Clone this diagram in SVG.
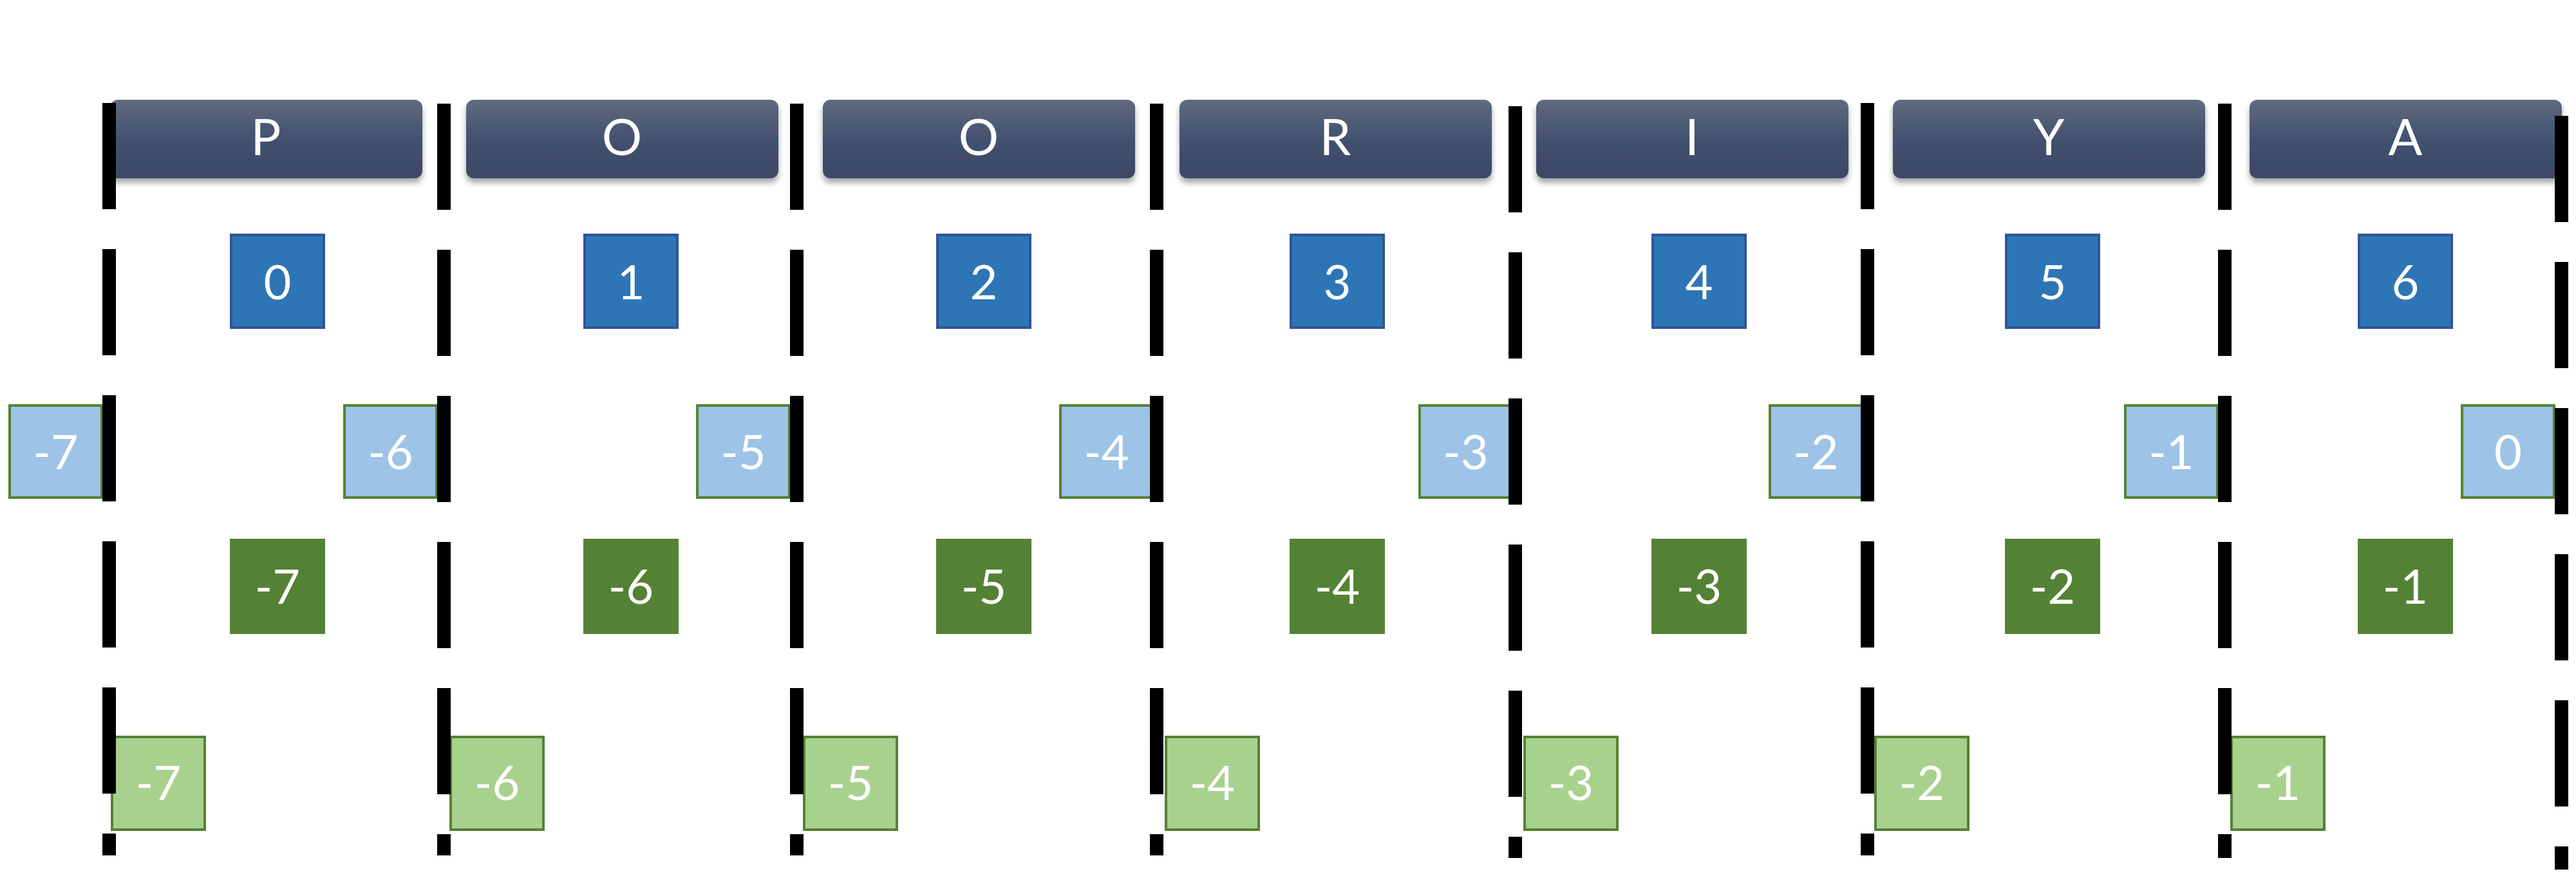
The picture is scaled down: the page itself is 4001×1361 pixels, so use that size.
<svg xmlns="http://www.w3.org/2000/svg" width="4001" height="1361" viewBox="0 0 4001 1361">
<style>
text{font-family:Lato,"Noto Sans","Liberation Sans",sans-serif;fill:#fff;text-anchor:middle}
.hdr rect{fill:url(#hg);filter:url(#sh)}
.hdr text{font-size:78px}
.bx text{font-size:74px}
.b rect{fill:#2e75b6;stroke:#2f5597;stroke-width:4}
.lb rect{fill:#9dc3e6;stroke:#548235;stroke-width:4}
.dg rect{fill:#548235}
.lg rect{fill:#a9d18e;stroke:#548235;stroke-width:4}
#connectors line{stroke:#000;stroke-width:21;stroke-dasharray:165 62}
</style>
<defs>
<linearGradient id="hg" x1="0" y1="0" x2="0" y2="1">
<stop offset="0" stop-color="#5f6b7e"/>
<stop offset="0.5" stop-color="#435170"/>
<stop offset="1" stop-color="#3b4864"/>
</linearGradient>
<filter id="sh" x="-5%" y="-20%" width="110%" height="150%">
<feDropShadow dx="0" dy="7" stdDeviation="5" flood-color="#000" flood-opacity="0.35"/>
</filter>
</defs>
<rect width="4001" height="1361" fill="#fff"/>
<g id="headers">
<g id="h0" class="hdr"><rect x="171" y="155" width="485" height="122" rx="12"/><text x="413" y="241">P</text></g>
<g id="h1" class="hdr"><rect x="724" y="155" width="485" height="122" rx="12"/><text x="966" y="241">O</text></g>
<g id="h2" class="hdr"><rect x="1278" y="155" width="485" height="122" rx="12"/><text x="1520" y="241">O</text></g>
<g id="h3" class="hdr"><rect x="1832" y="155" width="485" height="122" rx="12"/><text x="2074" y="241">R</text></g>
<g id="h4" class="hdr"><rect x="2386" y="155" width="485" height="122" rx="12"/><text x="2628" y="241">I</text></g>
<g id="h5" class="hdr"><rect x="2940" y="155" width="485" height="122" rx="12"/><text x="3182" y="241">Y</text></g>
<g id="h6" class="hdr"><rect x="3494" y="155" width="485" height="122" rx="12"/><text x="3736" y="241">A</text></g>
</g>
<g id="row-index" class="bx b">
<g id="b0"><rect x="359" y="365" width="144" height="144"/><text x="431" y="465">0</text></g>
<g id="b1"><rect x="908" y="365" width="144" height="144"/><text x="980" y="465">1</text></g>
<g id="b2"><rect x="1456" y="365" width="144" height="144"/><text x="1528" y="465">2</text></g>
<g id="b3"><rect x="2005" y="365" width="144" height="144"/><text x="2077" y="465">3</text></g>
<g id="b4"><rect x="2567" y="365" width="144" height="144"/><text x="2639" y="465">4</text></g>
<g id="b5"><rect x="3116" y="365" width="144" height="144"/><text x="3188" y="465">5</text></g>
<g id="b6"><rect x="3664" y="365" width="144" height="144"/><text x="3736" y="465">6</text></g>
</g>
<g id="row-lightblue" class="bx lb">
<g id="lb0"><rect x="15" y="630" width="143" height="143"/><text x="86.5" y="729">-7</text></g>
<g id="lb1"><rect x="535" y="630" width="143" height="143"/><text x="606.5" y="729">-6</text></g>
<g id="lb2"><rect x="1083" y="630" width="143" height="143"/><text x="1154.5" y="729">-5</text></g>
<g id="lb3"><rect x="1647" y="630" width="143" height="143"/><text x="1718.5" y="729">-4</text></g>
<g id="lb4"><rect x="2205" y="630" width="143" height="143"/><text x="2276.5" y="729">-3</text></g>
<g id="lb5"><rect x="2749" y="630" width="143" height="143"/><text x="2820.5" y="729">-2</text></g>
<g id="lb6"><rect x="3301" y="630" width="143" height="143"/><text x="3372.5" y="729">-1</text></g>
<g id="lb7"><rect x="3824" y="630" width="143" height="143"/><text x="3895.5" y="729">0</text></g>
</g>
<g id="row-darkgreen" class="bx dg">
<g id="dg0"><rect x="357" y="837" width="148" height="148"/><text x="431" y="938">-7</text></g>
<g id="dg1"><rect x="906" y="837" width="148" height="148"/><text x="980" y="938">-6</text></g>
<g id="dg2"><rect x="1454" y="837" width="148" height="148"/><text x="1528" y="938">-5</text></g>
<g id="dg3"><rect x="2003" y="837" width="148" height="148"/><text x="2077" y="938">-4</text></g>
<g id="dg4"><rect x="2565" y="837" width="148" height="148"/><text x="2639" y="938">-3</text></g>
<g id="dg5"><rect x="3114" y="837" width="148" height="148"/><text x="3188" y="938">-2</text></g>
<g id="dg6"><rect x="3662" y="837" width="148" height="148"/><text x="3736" y="938">-1</text></g>
</g>
<g id="row-lightgreen" class="bx lg">
<g id="lg0"><rect x="174" y="1145" width="144" height="144"/><text x="246" y="1243">-7</text></g>
<g id="lg1"><rect x="700" y="1145" width="144" height="144"/><text x="772" y="1243">-6</text></g>
<g id="lg2"><rect x="1249" y="1145" width="144" height="144"/><text x="1321" y="1243">-5</text></g>
<g id="lg3"><rect x="1811" y="1145" width="144" height="144"/><text x="1883" y="1243">-4</text></g>
<g id="lg4"><rect x="2368" y="1145" width="144" height="144"/><text x="2440" y="1243">-3</text></g>
<g id="lg5"><rect x="2913" y="1145" width="144" height="144"/><text x="2985" y="1243">-2</text></g>
<g id="lg6"><rect x="3466" y="1145" width="144" height="144"/><text x="3538" y="1243">-1</text></g>
</g>
<g id="connectors">
<line x1="169.5" y1="160" x2="169.5" y2="1329"/>
<line x1="689.5" y1="161" x2="689.5" y2="1329"/>
<line x1="1237.5" y1="161" x2="1237.5" y2="1329"/>
<line x1="1796.5" y1="161" x2="1796.5" y2="1329"/>
<line x1="2353.5" y1="165" x2="2353.5" y2="1333"/>
<line x1="2900.5" y1="160" x2="2900.5" y2="1329"/>
<line x1="3455.5" y1="161" x2="3455.5" y2="1333"/>
<line x1="3978.5" y1="180" x2="3978.5" y2="1351"/>
</g>
</svg>
